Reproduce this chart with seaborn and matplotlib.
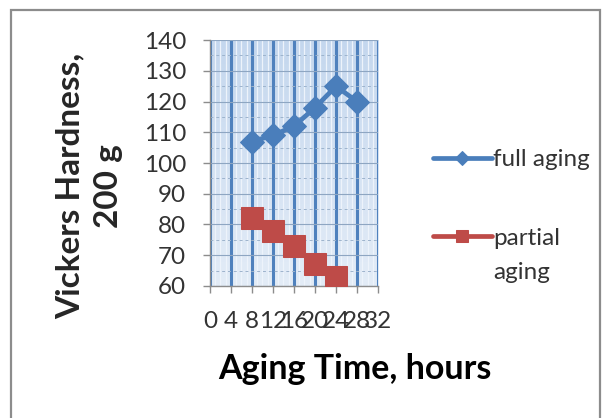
import matplotlib
matplotlib.use("Agg")
import matplotlib.pyplot as plt
import matplotlib.patches as mpatches
import matplotlib.colors as mcolors
import seaborn as sns
import pandas as pd
import numpy as np

full_time = [8, 12, 16, 20, 24, 28]
full_hardness = [107, 109, 112, 118, 125, 120]
partial_time = [8, 12, 16, 20, 24]
partial_hardness = [82, 78, 73, 67, 63]
x_ticks = [0, 4, 8, 12, 16, 20, 24, 28, 32]
y_ticks = [60, 70, 80, 90, 100, 110, 120, 130, 140]

sns.set_theme(style="white")
plt.rcParams['font.family'] = ['Lato', 'DejaVu Sans']

blue = "#4A7EBB"
red = "#BE4B48"

fig = plt.figure(figsize=(6.03, 4.18), dpi=100)
ax = fig.add_axes([0.348, 0.316, 0.279, 0.588])

# outer frame
fig.patches.append(mpatches.Rectangle((0.019, -0.01), 0.976, 0.987, transform=fig.transFigure,
                                      fill=False, edgecolor="#8C8C8C", linewidth=1.6))

# gradient background of plot area
cmap = mcolors.LinearSegmentedColormap.from_list("bg", ["#E3ECF7", "#C4D7EE"])
grad = np.linspace(0, 1, 256).reshape(-1, 1)
ax.imshow(grad, cmap=cmap, aspect="auto", extent=[0, 32, 60, 140], origin="lower", zorder=0)

df_full = pd.DataFrame({"t": full_time, "h": full_hardness})
df_part = pd.DataFrame({"t": partial_time, "h": partial_hardness})

sns.lineplot(data=df_full, x="t", y="h", ax=ax, color=blue, linewidth=3.4,
             marker="D", markersize=12.5, markeredgecolor=blue, zorder=5, label="full aging")
sns.lineplot(data=df_part, x="t", y="h", ax=ax, color=red, linewidth=3.4,
             marker="s", markersize=15.5, markeredgecolor=red, zorder=5, label="partial")

ax.set_xlim(0, 32)
ax.set_ylim(60, 140)
ax.set_xticks(x_ticks)
ax.set_yticks(y_ticks)
ax.set_xticks(np.arange(0, 33, 1), minor=True)
ax.set_yticks(np.arange(60, 141, 5), minor=True)

ax.grid(which="major", axis="x", color="#4F81BD", linewidth=2.2, zorder=1)
ax.grid(which="minor", axis="x", color="#EDF3FB", linewidth=0.9, zorder=1)
ax.grid(which="major", axis="y", color="#8EA6C2", linewidth=0.8, zorder=1)
ax.grid(which="minor", axis="y", color="#9DB3CC", linewidth=0.7, linestyle=(0, (3, 3)), zorder=1)
ax.set_axisbelow(True)

for s in ["top", "right"]:
    ax.spines[s].set_visible(False)
for s in ["left", "bottom"]:
    ax.spines[s].set_color("#8C8C8C")
    ax.spines[s].set_linewidth(1.0)

ax.tick_params(axis="both", which="major", direction="out", length=5, width=1, color="#8C8C8C",
               labelsize=17.5, labelcolor="#333333", bottom=True, left=True)
ax.tick_params(axis="y", which="major", pad=12)
ax.tick_params(axis="x", which="major", pad=13)
ax.tick_params(which="minor", length=0)

ax.set_xlabel("")
ax.set_ylabel("")
fig.text(0.589, 0.118, "Aging Time, hours", fontsize=24.5, fontweight="bold", color="black",
         ha="center", va="center")
fig.text(0.148, 0.555, "Vickers Hardness,\n200 g", rotation=90, fontsize=24, fontweight="bold",
         ha="center", va="center", multialignment="center", linespacing=1.4)

leg = ax.legend(loc="upper left", bbox_to_anchor=(1.27, 0.595), frameon=False, fontsize=17.5,
                handlelength=2.4, handletextpad=0.05, labelspacing=2.35, borderaxespad=0,
                markerscale=0.6)
for t in leg.get_texts():
    t.set_color("#333333")
fig.text(0.818, 0.348, "aging", fontsize=17.5, color="#333333", ha="left", va="center")

fig.savefig("out.png", dpi=100)
